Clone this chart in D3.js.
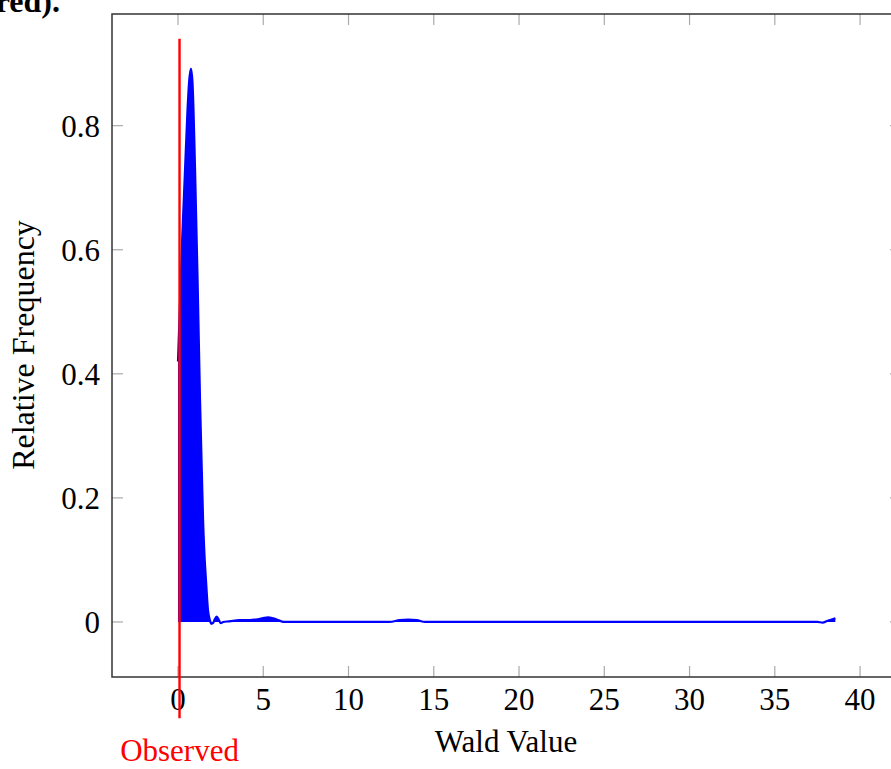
<!DOCTYPE html>
<html>
<head>
<meta charset="utf-8">
<script src="https://cdn.jsdelivr.net/npm/d3@7"></script>
<style>
body { margin: 0; background: #fff; }
text { font-family: "Liberation Serif", "DejaVu Serif", serif; }
</style>
</head>
<body>
<script>
// density of the simulated Wald values
var waldX = [0, 0.1, 0.25, 0.4, 0.55, 0.65, 0.76, 0.85, 1.0, 1.15, 1.29, 1.4, 1.47, 1.55, 1.64, 1.76, 1.88, 1.95, 2.05, 2.15, 2.27, 2.4, 2.5, 2.65, 3.0, 3.6, 4.2, 4.8, 5.3, 5.8, 6.2, 7, 10, 12.4, 13.0, 13.5, 14.0, 14.5, 20, 30, 37.5, 37.8, 38.1, 38.55];
var waldY = [0.42, 0.5, 0.62, 0.72, 0.82, 0.87, 0.892, 0.87, 0.73, 0.55, 0.36, 0.24, 0.165, 0.11, 0.068, 0.019, 0.002, -0.003, -0.002, 0.004, 0.0085, 0.003, -0.002, 0, 0.001, 0.003, 0.003, 0.005, 0.0075, 0.004, 0, 0, 0, 0, 0.003, 0.004, 0.003, 0, 0, 0, 0, -0.001, 0.002, 0.006];
var observed = 0.09;
var xTicks = [0, 5, 10, 15, 20, 25, 30, 35, 40];
var yTicks = [0, 0.2, 0.4, 0.6, 0.8];

var width = 891, height = 769;

var svg = d3.select("body").append("svg")
    .attr("width", width)
    .attr("height", height);

var x = d3.scaleLinear().domain([-3.87, 42.4]).range([112, 901]);
var y = d3.scaleLinear().domain([-0.0887, 0.98]).range([677, 14]);

var pts = waldX.map(function(d, i) { return [d, waldY[i]]; });

// caption fragment cut off at the top
svg.append("text")
    .attr("x", 60).attr("y", 12)
    .attr("text-anchor", "end")
    .style("font-size", "32px")
    .style("font-weight", "bold")
    .text("in red).");

// ticks, inward on all four sides
var tickLen = 11;
svg.selectAll(".xtick-b").data(xTicks).enter().append("line")
    .attr("x1", d => x(d)).attr("x2", d => x(d))
    .attr("y1", 677).attr("y2", 677 - tickLen)
    .attr("stroke", "#aaa").attr("stroke-width", 1.2);
svg.selectAll(".xtick-t").data(xTicks).enter().append("line")
    .attr("x1", d => x(d)).attr("x2", d => x(d))
    .attr("y1", 14).attr("y2", 14 + tickLen)
    .attr("stroke", "#aaa").attr("stroke-width", 1.2);
svg.selectAll(".ytick-l").data(yTicks).enter().append("line")
    .attr("x1", 112).attr("x2", 112 + tickLen)
    .attr("y1", d => y(d)).attr("y2", d => y(d))
    .attr("stroke", "#aaa").attr("stroke-width", 1.2);
svg.selectAll(".ytick-r").data(yTicks).enter().append("line")
    .attr("x1", 901).attr("x2", 901 - tickLen)
    .attr("y1", d => y(d)).attr("y2", d => y(d))
    .attr("stroke", "#aaa").attr("stroke-width", 1.2);

// frame
svg.append("rect")
    .attr("x", 112).attr("y", 14)
    .attr("width", 901 - 112).attr("height", 677 - 14)
    .attr("fill", "none")
    .attr("stroke", "#333").attr("stroke-width", 1.5);

// tick labels
svg.selectAll(".xlab").data(xTicks).enter().append("text")
    .attr("x", d => x(d)).attr("y", 710)
    .attr("text-anchor", "middle")
    .style("font-size", "31px")
    .text(d => d);
svg.selectAll(".ylab").data(yTicks).enter().append("text")
    .attr("x", 100).attr("y", d => y(d) + 11)
    .attr("text-anchor", "end")
    .style("font-size", "31px")
    .text(d => d);

// axis titles
svg.append("text")
    .attr("x", 506).attr("y", 752)
    .attr("text-anchor", "middle")
    .style("font-size", "31px")
    .text("Wald Value");
svg.append("text")
    .attr("transform", "translate(34,345) rotate(-90)")
    .attr("text-anchor", "middle")
    .style("font-size", "32px")
    .text("Relative Frequency");

// filled density
var area = d3.area()
    .x(d => x(d[0]))
    .y0(y(0))
    .y1(d => y(d[1]))
    .curve(d3.curveMonotoneX);
var line = d3.line()
    .x(d => x(d[0]))
    .y(d => y(d[1]))
    .curve(d3.curveMonotoneX);

svg.append("path")
    .datum(pts)
    .attr("d", area)
    .attr("fill", "#0000ff");
svg.append("path")
    .datum(pts)
    .attr("d", line)
    .attr("fill", "none")
    .attr("stroke", "#0000ff")
    .attr("stroke-width", 2.2);

// observed value
svg.append("line")
    .attr("x1", x(observed)).attr("x2", x(observed))
    .attr("y1", y(0.94)).attr("y2", y(-0.155))
    .attr("stroke", "#ff0000").attr("stroke-width", 2.4);
svg.append("text")
    .attr("x", x(observed)).attr("y", 761)
    .attr("text-anchor", "middle")
    .attr("fill", "#ff0000")
    .style("font-size", "31px")
    .text("Observed");
</script>
</body>
</html>
